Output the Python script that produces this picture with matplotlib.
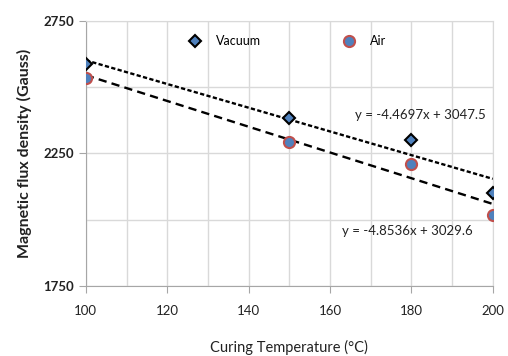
import numpy as np
import matplotlib.pyplot as plt
from matplotlib.ticker import MultipleLocator

plt.rcParams['font.family'] = ['Lato', 'DejaVu Sans']

temp = [100, 150, 180, 200]
vacuum = [2586, 2382, 2300, 2100]
air = [2533, 2294, 2209, 2017]

# trendline coefficients as printed on the chart
vac_fit = (-4.4697, 3047.5)
air_fit = (-4.8536, 3029.6)
vac_eq = 'y = -4.4697x + 3047.5'
air_eq = 'y = -4.8536x + 3029.6'

yticks = [1750, 2250, 2750]
ygrid_minor = [2000, 2500]

fig = plt.figure(figsize=(5.08, 3.56), dpi=100)
ax = fig.add_axes([0.169, 0.197, 0.801, 0.745])

xs = np.array([100, 200])
ax.plot(xs, vac_fit[0] * xs + vac_fit[1], color='black', lw=1.7, ls=(0, (1.8, 1.0)), zorder=2)
ax.plot(xs, air_fit[0] * xs + air_fit[1], color='black', lw=1.7, ls=(0, (3.5, 2.2)), zorder=2)

ax.plot(temp, vacuum, ls='none', marker='D', ms=6.5, mfc='#4F81BD', mec='black', mew=1.5,
        label='Vacuum', zorder=3)
ax.plot(temp, air, ls='none', marker='o', ms=8, mfc='#4F81BD', mec='#C0504D', mew=1.5,
        label='Air', zorder=3)

ax.text(182.3, 2394, vac_eq, ha='center', va='center', fontsize=9.5, color='#222222')
ax.text(179.1, 1957, air_eq, ha='center', va='center', fontsize=9.5, color='#222222')

ax.set_xlim(100, 200)
ax.set_ylim(1750, 2750)
ax.xaxis.set_major_locator(MultipleLocator(20))
ax.xaxis.set_minor_locator(MultipleLocator(10))
ax.set_yticks(yticks)
ax.set_yticks(ygrid_minor, minor=True)
ax.grid(True, which='both', color='#d9d9d9', lw=1, zorder=0)
ax.set_axisbelow(True)

for s in ['top', 'right']:
    ax.spines[s].set_color('#d9d9d9')
for s in ['left', 'bottom']:
    ax.spines[s].set_color('#a6a6a6')
ax.tick_params(which='major', direction='out', length=5, color='#a6a6a6',
               labelsize=9.5, labelcolor='#222222')
ax.tick_params(which='minor', length=0)
ax.tick_params(axis='x', pad=9)
for lbl in ax.get_yticklabels():
    lbl.set_fontweight('bold')

ax.set_ylabel('Magnetic flux density (Gauss)', fontsize=11.5, fontweight='bold', labelpad=8,
              color='#222222')
ax.set_xlabel('Curing Temperature (°C)', fontsize=10.5, labelpad=16, color='#222222')

ax.legend(loc='center left', bbox_to_anchor=(0.253, 0.923), ncol=2, frameon=False,
          fontsize=9, handlelength=1, handletextpad=1.2, columnspacing=6.5, borderpad=0,
          borderaxespad=0)

fig.savefig('out.png', dpi=100)
